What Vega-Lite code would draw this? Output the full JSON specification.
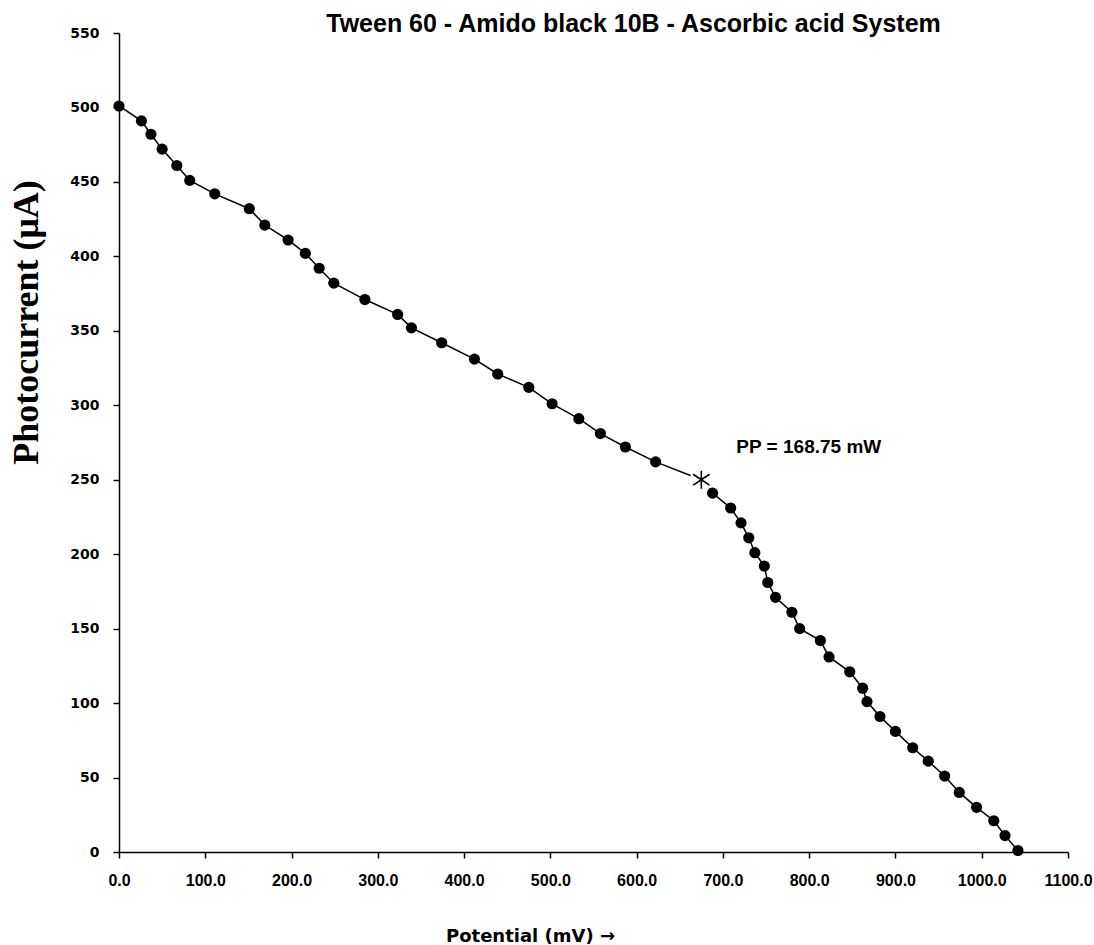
{
  "$schema": "https://vega.github.io/schema/vega-lite/v6.json",
  "autosize": "none",
  "width": 949,
  "height": 819,
  "padding": {"left": 119, "top": 33, "right": 26, "bottom": 93},
  "background": "white",
  "config": {"view": {"stroke": null}},
  "title": {
    "text": "Tween 60 - Amido black 10B - Ascorbic acid System",
    "font": "Liberation Sans",
    "fontSize": 25,
    "fontWeight": "bold",
    "color": "black",
    "anchor": "middle",
    "frame": "group",
    "dx": 40,
    "dy": 13,
    "offset": 2
  },
  "data": {
    "values": [
      {"potential": 0, "current": 501, "kind": "data"},
      {"potential": 26, "current": 491, "kind": "data"},
      {"potential": 37, "current": 482, "kind": "data"},
      {"potential": 50, "current": 472, "kind": "data"},
      {"potential": 67, "current": 461, "kind": "data"},
      {"potential": 82, "current": 451, "kind": "data"},
      {"potential": 111, "current": 442, "kind": "data"},
      {"potential": 151, "current": 432, "kind": "data"},
      {"potential": 169, "current": 421, "kind": "data"},
      {"potential": 196, "current": 411, "kind": "data"},
      {"potential": 216, "current": 402, "kind": "data"},
      {"potential": 232, "current": 392, "kind": "data"},
      {"potential": 249, "current": 382, "kind": "data"},
      {"potential": 285, "current": 371, "kind": "data"},
      {"potential": 323, "current": 361, "kind": "data"},
      {"potential": 339, "current": 352, "kind": "data"},
      {"potential": 374, "current": 342, "kind": "data"},
      {"potential": 412, "current": 331, "kind": "data"},
      {"potential": 439, "current": 321, "kind": "data"},
      {"potential": 475, "current": 312, "kind": "data"},
      {"potential": 502, "current": 301, "kind": "data"},
      {"potential": 533, "current": 291, "kind": "data"},
      {"potential": 558, "current": 281, "kind": "data"},
      {"potential": 587, "current": 272, "kind": "data"},
      {"potential": 622, "current": 262, "kind": "data"},
      {"potential": 675, "current": 250, "kind": "pp", "label": "PP = 168.75 mW"},
      {"potential": 688, "current": 241, "kind": "data"},
      {"potential": 709, "current": 231, "kind": "data"},
      {"potential": 721, "current": 221, "kind": "data"},
      {"potential": 730, "current": 211, "kind": "data"},
      {"potential": 737, "current": 201, "kind": "data"},
      {"potential": 748, "current": 192, "kind": "data"},
      {"potential": 752, "current": 181, "kind": "data"},
      {"potential": 761, "current": 171, "kind": "data"},
      {"potential": 780, "current": 161, "kind": "data"},
      {"potential": 789, "current": 150, "kind": "data"},
      {"potential": 813, "current": 142, "kind": "data"},
      {"potential": 823, "current": 131, "kind": "data"},
      {"potential": 847, "current": 121, "kind": "data"},
      {"potential": 862, "current": 110, "kind": "data"},
      {"potential": 867, "current": 101, "kind": "data"},
      {"potential": 882, "current": 91, "kind": "data"},
      {"potential": 900, "current": 81, "kind": "data"},
      {"potential": 920, "current": 70, "kind": "data"},
      {"potential": 938, "current": 61, "kind": "data"},
      {"potential": 957, "current": 51, "kind": "data"},
      {"potential": 974, "current": 40, "kind": "data"},
      {"potential": 994, "current": 30, "kind": "data"},
      {"potential": 1014, "current": 21, "kind": "data"},
      {"potential": 1027, "current": 11, "kind": "data"},
      {"potential": 1042, "current": 1, "kind": "data"}
    ]
  },
  "encoding": {
    "x": {
      "field": "potential",
      "type": "quantitative",
      "scale": {"domain": [0, 1100], "nice": false, "zero": false},
      "axis": {
        "values": [0, 100, 200, 300, 400, 500, 600, 700, 800, 900, 1000, 1100],
        "format": ".1f",
        "grid": false,
        "domainColor": "black",
        "domainWidth": 1.5,
        "tickColor": "black",
        "tickWidth": 1.5,
        "tickSize": 6,
        "labelFont": "Liberation Sans",
        "labelFontSize": 16,
        "labelFontWeight": "bold",
        "labelColor": "black",
        "labelPadding": 14,
        "labelFlush": false,
        "labelOverlap": false,
        "title": "Potential (mV) →",
        "titleFont": "DejaVu Sans",
        "titleFontSize": 18,
        "titleFontWeight": "bold",
        "titleColor": "black",
        "titleX": 411,
        "titleY": 89,
        "titleAlign": "center",
        "titleBaseline": "alphabetic"
      }
    },
    "y": {
      "field": "current",
      "type": "quantitative",
      "scale": {"domain": [0, 550], "nice": false, "zero": false},
      "axis": {
        "values": [0, 50, 100, 150, 200, 250, 300, 350, 400, 450, 500, 550],
        "grid": false,
        "domainColor": "black",
        "domainWidth": 1.5,
        "tickColor": "black",
        "tickWidth": 1.5,
        "tickSize": 6,
        "labelFont": "DejaVu Sans",
        "labelFontSize": 14,
        "labelFontWeight": "bold",
        "labelColor": "black",
        "labelPadding": 14,
        "labelFlush": false,
        "labelOverlap": false,
        "title": "Photocurrent (μA)",
        "titleFont": "Liberation Serif",
        "titleFontSize": 36,
        "titleFontWeight": "bold",
        "titleColor": "black",
        "titleAngle": -90,
        "titleX": -82,
        "titleY": 289,
        "titleAlign": "center",
        "titleBaseline": "alphabetic"
      }
    }
  },
  "layer": [
    {
      "mark": {"type": "line", "color": "black", "strokeWidth": 1.5},
      "encoding": {"order": {"field": "potential", "type": "quantitative"}}
    },
    {
      "transform": [{"filter": "datum.kind === 'data'"}],
      "mark": {"type": "point", "shape": "circle", "filled": true, "color": "black", "opacity": 1, "size": 125}
    },
    {
      "transform": [{"filter": "datum.kind === 'pp'"}],
      "mark": {"type": "point", "shape": "circle", "filled": true, "color": "white", "opacity": 1, "size": 540}
    },
    {
      "transform": [{"filter": "datum.kind === 'pp'"}],
      "mark": {
        "type": "point",
        "shape": "M0,-1L0,1M-0.9,-0.6L0.9,0.6M-0.9,0.6L0.9,-0.6",
        "filled": false,
        "stroke": "black",
        "strokeWidth": 1.6,
        "opacity": 1,
        "size": 330
      }
    },
    {
      "transform": [{"filter": "datum.kind === 'pp'"}],
      "mark": {
        "type": "text",
        "font": "Liberation Sans",
        "fontSize": 19,
        "fontWeight": "bold",
        "color": "black",
        "align": "left",
        "baseline": "alphabetic",
        "dx": 35,
        "dy": -27
      },
      "encoding": {"text": {"field": "label"}}
    }
  ]
}
